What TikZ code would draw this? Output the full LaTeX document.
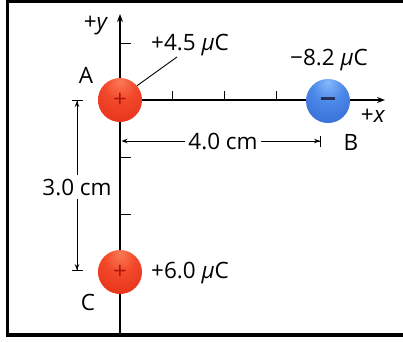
\documentclass[tikz,border=0pt]{standalone}
\usepackage{fontspec}
\setmainfont{Open Sans}
\usepackage{tikz}
\usetikzlibrary{arrows.meta, positioning}
\definecolor{redhi}{HTML}{FA7A55}
\definecolor{redmid}{HTML}{F2482A}
\definecolor{redlow}{HTML}{E22C16}
\definecolor{reddark}{HTML}{B81508}
\definecolor{bluehi}{HTML}{86B8FA}
\definecolor{bluemid}{HTML}{4C88E8}
\definecolor{bluelow}{HTML}{3066D0}
\definecolor{bluedark}{HTML}{1C44A0}
\definecolor{signred}{HTML}{B0140C}
\definecolor{signblue}{HTML}{25315A}
\pgfdeclareradialshading{redsphere}{\pgfpoint{0bp}{22bp}}{color(0bp)=(redhi); color(18bp)=(redmid); color(45bp)=(redlow); color(72bp)=(reddark)}
\pgfdeclareradialshading{bluesphere}{\pgfpoint{0bp}{22bp}}{color(0bp)=(bluehi); color(18bp)=(bluemid); color(45bp)=(bluelow); color(72bp)=(bluedark)}

\begin{document}
\begin{tikzpicture}[x=1pt, y=-1pt,
    font=\fontsize{22.5}{26}\selectfont,
    charge/.style={circle, minimum size=44pt, inner sep=0pt, font=\fontsize{24}{24}\selectfont},
    axisline/.style={line width=1.2pt, -{Stealth[length=8pt,width=6pt]}},
    dimline/.style={line width=0.9pt, -{Stealth[length=6pt,width=4.5pt]}},
    dimbar/.style={line width=0.9pt, -{Stealth[length=6pt,width=4.5pt]Bar[width=11pt]}},
    axtick/.style={line width=0.9pt}]
  \useasboundingbox (0,0) rectangle (403,341);
  % frame
  \draw[line width=3.5pt] (410,1.5) -| (7.5,335) -- (410,335);
  % axes and ticks
  \coordinate (origin) at (120,100);
  \coordinate (ytop) at (120,14);
  \coordinate (ybot) at (120,334);
  \coordinate (xend) at (385,100);
  \draw[axisline] (ybot) -- (ytop);
  \draw[axisline] (origin) -- (xend);
  \foreach \i in {1,2,3}
    \draw[axtick] (120+52*\i,100) -- ++(0,-9);
  \foreach \j in {-1,1,2}
    \draw[axtick] (120,100+57*\j) -- ++(11,0);
  % charges
  \node[charge, shading=redsphere] (A) at (origin) {\color{signred}+};
  \node[charge, shading=bluesphere] (B) at (328,101) {\color{signblue}\rule[0.22em]{0.62em}{0.13em}};
  \node[charge, shading=redsphere] (C) at (120,272) {\color{signred}+};
  % labels
  \node (ylab) at (96,26) {+\textit{y}};
  \node (xlab) at (373,116) {+\textit{x}};
  \node (Alab) at (86,75) {A};
  \node (Blab) at (351,142) {B};
  \node (Clab) at (88,302) {C};
  \node (qA) at (190,45) {+4.5 \textit{μ}C};
  \node (qB) at (329,60) {−8.2 \textit{μ}C};
  \node (qC) at (190,273) {+6.0 \textit{μ}C};
  \coordinate (leadend) at (177,57);
  \draw[line width=0.9pt] (A.40) -- (leadend);
  % distance A--B
  \node (dAB) at (223,141) {4.0 cm};
  \coordinate (dABl) at (121.5,141);
  \coordinate (dABr) at (321,141);
  \draw[dimline] (dAB) -- (dABl);
  \draw[dimbar] (dAB) -- (dABr);
  % distance A--C
  \node (dAC) at (77,187) {3.0 cm};
  \coordinate (dACt) at (77,100);
  \coordinate (dACb) at (77,271);
  \draw[dimbar] (dAC) -- (dACt);
  \draw[dimbar] (dAC) -- (dACb);
\end{tikzpicture}
\end{document}
